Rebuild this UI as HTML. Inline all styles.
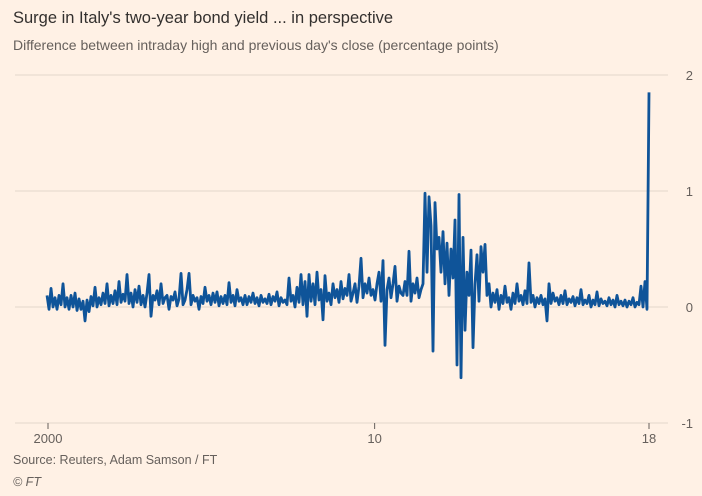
<!DOCTYPE html>
<html><head><meta charset="utf-8"><style>
body{margin:0;background:#fff1e5;font-family:"Liberation Sans",sans-serif;}
svg{display:block}
</style></head><body>
<svg id="c" width="702" height="496">
<text x="13" y="23" font-size="16.5" fill="#33302e">Surge in Italy's two-year bond yield ... in perspective</text>
<text x="13" y="50" font-size="14" fill="#66605c">Difference between intraday high and previous day's close (percentage points)</text>
<g id="grid"></g><g id="xax"></g><g id="plot"></g>
<text x="13" y="464" font-size="12.5" fill="#66605c">Source: Reuters, Adam Samson / FT</text>
<text x="13" y="486" font-size="12.5" font-style="italic" fill="#66605c">© FT</text>
</svg>
<script>
const yTicks=[2,1,0,-1];
const xTickVals=[2000,2010,2018.4];
const xTickLabels=["2000","10","18"];
const startYear=1999.97, endYear=2018.4;
const values=[0.1,-0.02,0.16,0.0,0.08,-0.02,0.1,0.02,0.2,0.0,
0.08,-0.02,0.1,0.0,0.12,-0.03,0.07,-0.02,0.05,-0.12,
0.06,-0.04,0.09,0.01,0.17,0.0,0.08,0.02,0.12,0.03,
0.2,0.01,0.1,0.03,0.14,0.02,0.22,0.04,0.11,0.05,
0.28,0.03,0.12,0.0,0.15,0.04,0.18,0.02,0.1,0.0,
0.12,0.28,-0.08,0.1,0.06,0.14,0.02,0.2,0.03,0.08,
0.1,-0.02,0.09,0.06,0.13,0.01,0.07,0.29,0.02,0.06,
0.15,0.29,0.02,0.1,0.05,0.08,-0.02,0.09,0.03,0.17,
0.05,0.1,0.02,0.12,0.04,0.13,0.01,0.09,0.03,0.1,
0.02,0.21,0.04,0.1,0.01,0.15,0.05,0.08,0.02,0.1,
0.02,0.09,0.04,0.12,0.03,0.08,0.01,0.1,0.04,0.07,
0.03,0.11,0.02,0.09,0.05,0.13,0.01,0.08,0.04,0.06,
0.02,0.25,0.05,0.1,0.0,0.17,0.04,0.28,0.02,0.22,
-0.08,0.28,0.05,0.2,0.02,0.3,0.06,0.15,-0.11,0.27,
0.05,0.12,0.02,0.2,0.08,0.15,0.04,0.22,0.07,0.16,
0.1,0.28,0.05,0.12,0.2,0.04,0.18,0.42,0.08,0.2,
0.12,0.25,0.1,0.15,0.06,0.2,0.3,0.05,0.4,-0.33,
0.15,0.25,0.08,0.2,0.35,0.05,0.18,0.12,0.1,0.22,
0.1,0.48,0.05,0.2,0.12,0.25,0.08,0.15,0.2,0.98,
0.3,0.95,0.7,-0.38,0.9,0.5,0.6,0.3,0.65,0.2,
0.55,0.1,0.5,0.25,0.75,-0.5,0.97,-0.61,0.6,-0.2,
0.3,0.1,0.49,-0.35,0.2,0.45,0.05,0.52,0.3,0.54,
0.1,0.2,0.0,0.12,0.04,0.15,-0.02,0.1,0.03,0.18,
0.04,0.08,-0.02,0.12,0.03,0.2,0.05,0.1,0.02,0.14,
0.03,0.38,0.04,0.1,0.0,0.08,0.03,0.1,0.02,0.07,
-0.12,0.2,0.03,0.12,0.05,0.08,0.02,0.1,0.03,0.14,
0.02,0.07,0.04,0.09,0.01,0.08,0.03,0.15,0.02,0.06,
0.03,0.1,0.0,0.06,0.02,0.13,0.01,0.07,0.03,0.05,
0.01,0.08,0.02,0.06,0.0,0.1,0.02,0.05,0.01,0.06,
0.0,0.05,0.02,0.08,0.0,0.04,0.02,0.18,0.0,0.22,
-0.02,1.85];
const NS="http://www.w3.org/2000/svg";
const X=v=>48+(v-2000)*(649-48)/(2018.4-2000);
const Y=v=>307-v*116;
function mk(t,a,p){const e=document.createElementNS(NS,t);for(const k in a)e.setAttribute(k,a[k]);p.appendChild(e);return e;}
const grid=document.getElementById('grid'),xax=document.getElementById('xax'),plot=document.getElementById('plot');
yTicks.forEach(v=>{
 const l=mk('line',{x1:15,x2:668,y1:Y(v),y2:Y(v),stroke:'#e3d6cb','stroke-width':1},grid);
 
 
 const t=mk('text',{x:693,y:Y(v)+5,'text-anchor':'end','font-size':13,fill:'#66605c'},grid);
 t.textContent=v;
 
 
});
xTickVals.forEach((v,i)=>{
 const l=mk('line',{x1:X(v),x2:X(v),y1:423,y2:429,stroke:'#66605c','stroke-width':1},xax);
 
 
 const t=mk('text',{x:X(v),y:443,'text-anchor':'middle','font-size':13,fill:'#66605c'},xax);
 t.textContent=xTickLabels[i];
 
 
});
const n=values.length;
const d=values.map((v,i)=>(i?'L':'M')+X(startYear+i*(endYear-startYear)/(n-1)).toFixed(2)+','+Y(v).toFixed(2)).join('');
const p=mk('path',{d:d,fill:'none',stroke:'#0f5499','stroke-width':2.8,'stroke-linejoin':'round'},plot);


</script>
</body></html>
